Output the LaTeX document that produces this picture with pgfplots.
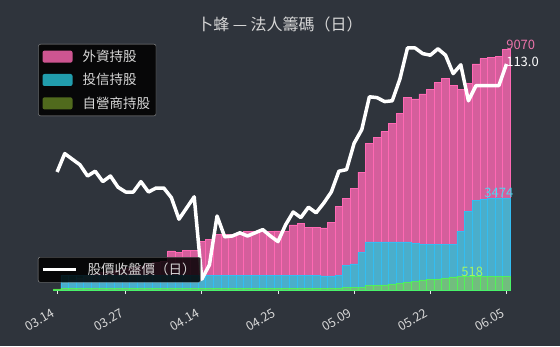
\documentclass[border=0pt]{standalone}
\usepackage{fontspec}
\setmainfont{Noto Sans CJK TC}
\usepackage{pgfplots}
\pgfplotsset{compat=1.18}
\usepackage{pgfplotstable}
\definecolor{bg}{RGB}{47,52,60}
\definecolor{fpink}{RGB}{255,105,180}
\definecolor{fcyan}{RGB}{40,195,215}
\definecolor{fgreen}{RGB}{154,205,50}
\definecolor{txt}{RGB}{215,215,215}
\definecolor{lpink}{RGB}{235,115,170}
\definecolor{lcyan}{RGB}{75,215,240}
\definecolor{lgreen}{RGB}{165,245,100}

\pgfplotstableread{
i f t d p
0 0 0 40 99.5
1 250 560 50 101.8
2 350 560 50 101.1
3 450 560 50 100.4
4 500 560 50 99.0
5 600 560 50 99.6
6 650 560 50 98.3
7 700 560 50 99.0
8 750 560 50 97.6
9 800 560 50 97.0
10 850 560 50 97.0
11 900 560 50 98.3
12 1000 560 50 97.0
13 1050 560 50 97.5
14 1100 560 50 97.5
15 1470 560 50 96.3
16 1430 560 50 93.6
17 1500 560 50 95.0
18 1500 560 50 96.4
19 1820 560 50 86.1
20 1920 560 50 87.9
21 2110 560 50 94.0
22 2110 560 50 91.4
23 2110 560 50 91.5
24 2150 560 50 91.9
25 2200 560 50 91.5
26 2220 560 50 91.9
27 2220 560 50 92.3
28 2220 560 50 91.5
29 2230 560 50 90.8
30 2230 560 60 92.9
31 2450 560 60 94.5
32 2520 560 60 93.8
33 2370 560 60 95.1
34 2370 540 60 94.4
35 2340 530 60 95.6
36 2540 530 60 97.0
37 3140 565 60 99.6
38 3450 940 90 99.8
39 3830 980 90 103.1
40 4440 1405 90 104.8
41 5530 1810 170 108.9
42 5750 1810 185 108.8
43 5970 1810 195 108.3
44 6280 1810 210 108.4
45 6660 1810 250 111.1
46 7260 1810 290 115.0
47 7200 1760 310 115.0
48 7390 1730 380 114.3
49 7560 1730 400 114.1
50 7830 1730 410 114.9
51 7980 1730 440 114.1
52 7720 1730 490 111.8
53 7560 2220 510 112.9
54 7790 2950 518 108.4
55 8520 3365 518 110.3
56 8730 3417 518 110.3
57 8770 3460 518 110.3
58 8790 3474 518 110.3
59 9070 3474 518 113.0
}\data

\begin{document}
\begin{tikzpicture}
\fill[bg] (-53.3pt,-56pt) rectangle (506.7pt,290pt);
\begin{axis}[
  width=457pt, height=250pt, scale only axis, clip=false,
  xmin=-0.5, xmax=59.5, ymin=0, ymax=9420,
  axis line style={draw=none},
  ytick=\empty,
  xtick={0,9,19,29,39,49,59},
  xticklabels={03.14,03.27,04.14,04.25,05.09,05.22,06.05},
  xtick pos=bottom, tick align=outside, major tick length=4pt,
  tick style={draw=white!90!bg, line width=0.8pt},
  xticklabel style={rotate=30, anchor=north east, font=\fontsize{12.5}{14}\selectfont, text=txt, inner sep=1pt, yshift=-8pt, xshift=-11pt},
  legend cell align=left,
  legend image code/.code={\draw[#1,draw=none] (0pt,-6pt) rectangle (30pt,6pt);},
  legend style={at={(-0.0328,0.984)}, anchor=north west, fill=black, fill opacity=0.85, text opacity=1,
    draw=white!60!black, rounded corners=2pt, text=txt, font=\fontsize{13.5}{16}\selectfont,
    inner xsep=4pt, inner ysep=4pt, row sep=6.5pt,
    /tikz/every odd column/.append style={column sep=8pt}},
]
\addplot[ybar, bar width=1, bar shift=0pt, fill=fpink, fill opacity=0.8, draw=fpink, line width=0.6pt] table[x=i,y=f]{\data};
\addlegendentry{外資持股}
\addplot[ybar, bar width=1, bar shift=0pt, fill=fcyan, fill opacity=0.8, draw=cyan!80!white, line width=0.6pt] table[x=i,y=t]{\data};
\addlegendentry{投信持股}
\addplot[ybar, bar width=1, bar shift=0pt, fill=fgreen, fill opacity=0.5, draw=green!70!white, draw opacity=0.8, line width=0.6pt] table[x=i,y=d]{\data};
\addlegendentry{自營商持股}
\node[anchor=base west, inner sep=0pt, text=lpink, text opacity=1, font=\fontsize{13}{15}\selectfont] at (axis cs:58.95,9070) {9070};
\node[anchor=base, inner sep=0pt, text=lcyan, text opacity=1, font=\fontsize{13}{15}\selectfont] at (axis cs:58,3474) {3474};
\node[anchor=base, inner sep=0pt, text=lgreen, text opacity=1, font=\fontsize{13}{15}\selectfont] at (axis cs:54.5,518) {518};
\end{axis}
\begin{axis}[
  width=457pt, height=250pt, scale only axis, clip=false,
  xmin=-0.5, xmax=59.5, ymin=84.75, ymax=116,
  hide axis,
  legend cell align=left,
  legend image code/.code={\draw[#1] (0pt,0pt) -- (33pt,0pt);},
  legend style={at={(-0.0335,0.132)}, anchor=north west, fill=black, fill opacity=0.85, text opacity=1,
    draw=white!60!black, rounded corners=2pt, text=txt, font=\fontsize{13.5}{16}\selectfont,
    inner xsep=3pt, inner ysep=4pt,
    /tikz/every odd column/.append style={column sep=8pt}},
]
\addplot[white, line width=3.5pt, line join=round] table[x=i,y=p]{\data};
\addlegendentry{股價收盤價（日）}
\node[anchor=west, inner sep=0pt, text=white, text opacity=1, font=\fontsize{13}{15}\selectfont] at (axis cs:58.95,113.3) {113.0};
\end{axis}
\node[text=txt, font=\fontsize{16}{18}\selectfont] at (226.7pt,266pt) {卜蜂 — 法人籌碼（日）};
\pgfresetboundingbox
\path (-53.3pt,-56pt) rectangle (506.7pt,290pt);
\end{tikzpicture}
\end{document}
